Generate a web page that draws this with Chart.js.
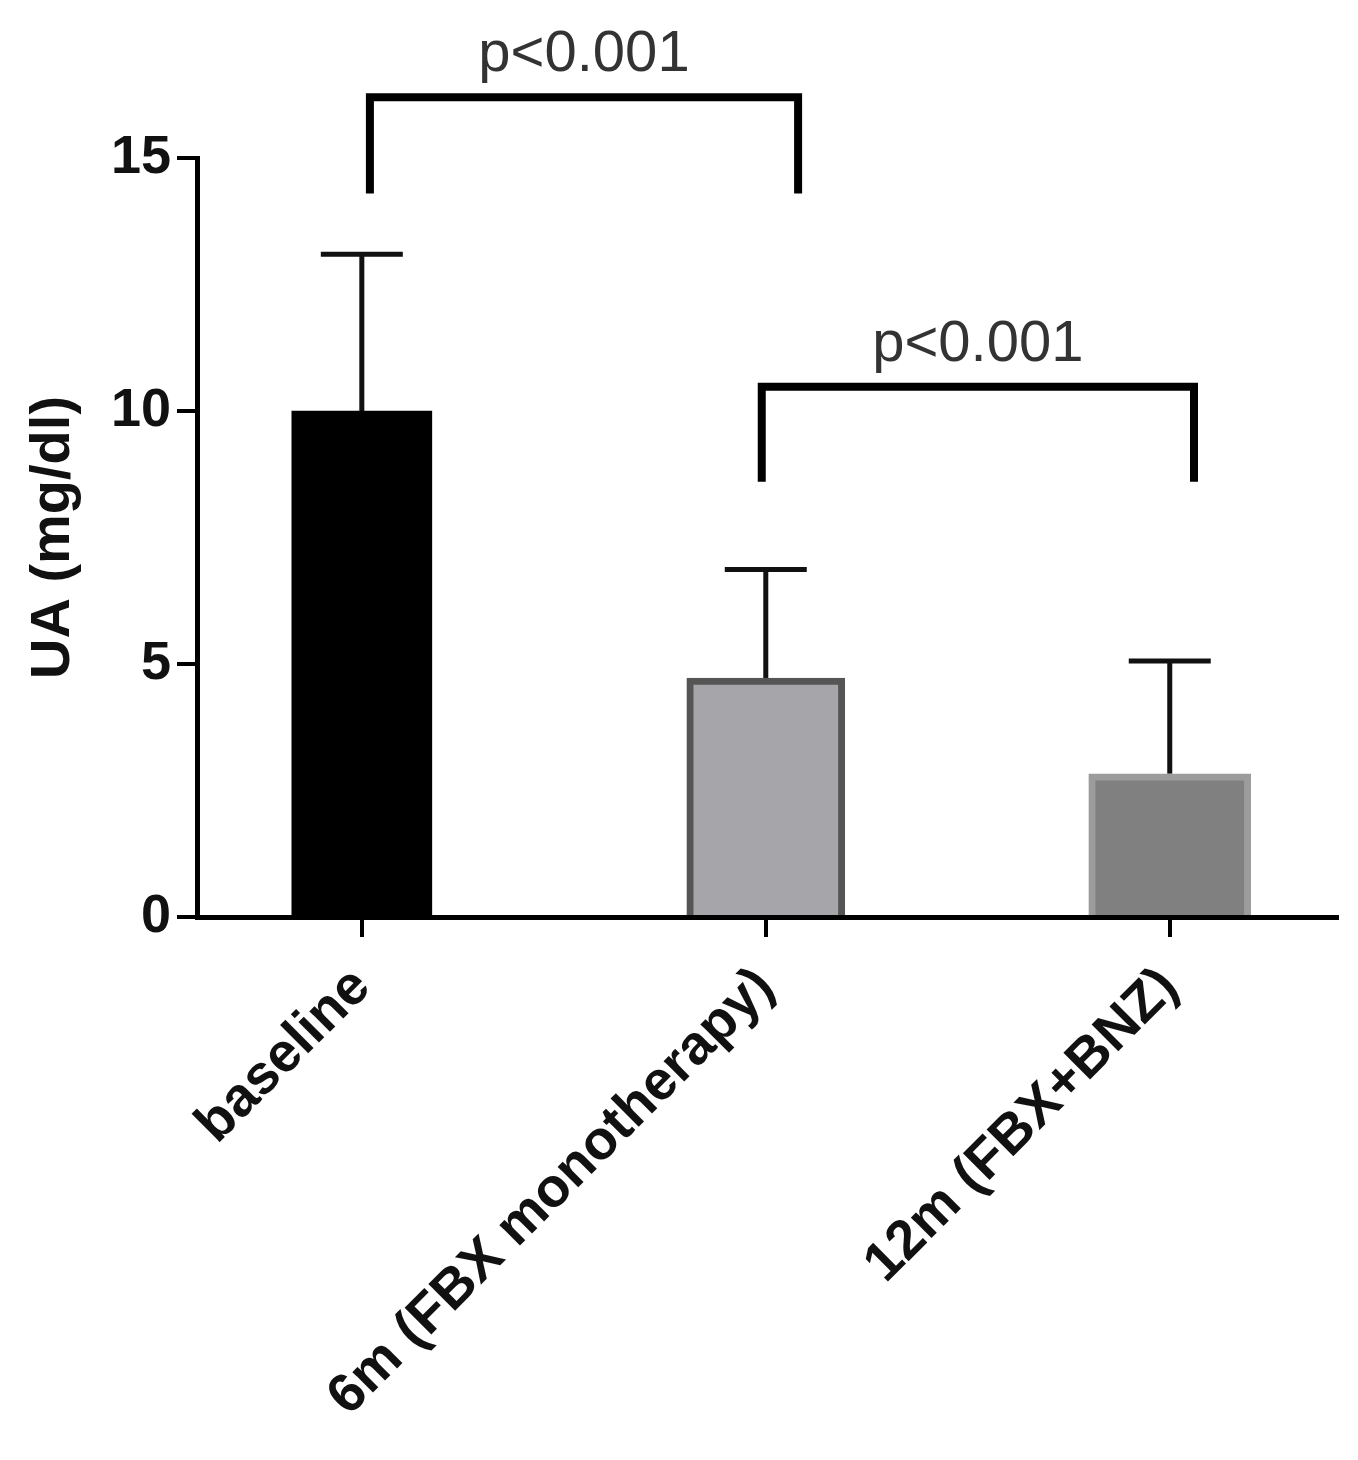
<!DOCTYPE html>
<html>
<head>
<meta charset="utf-8">
<script src="https://cdn.jsdelivr.net/npm/chart.js@4/dist/chart.umd.min.js"></script>
<style>
  html, body { margin: 0; padding: 0; background: #fff; }
  #wrap { width: 1358px; height: 1460px; }
</style>
</head>
<body>
<div id="wrap"><canvas id="uaChart"></canvas></div>
<script>
// ===== data =====
const categories = ['baseline', '6m (FBX monotherapy)', '12m (FBX+BNZ)'];
const means = [10.0, 4.72, 2.83];
const sds = [3.1, 2.15, 2.23];
const yTicks = [0, 5, 10, 15];

// significance brackets (x in category units, y in mg/dl)
const bracketFrom = [0.02, 0.99];
const bracketTo = [1.08, 2.06];
const bracketTop = [16.2, 10.48];
const bracketLegEnd = [14.3, 8.6];
const bracketLabels = ['p<0.001', 'p<0.001'];

// bar styling
const barFill = ['#000000', '#a6a6aa', '#808080'];
const barEdge = ['#000000', '#555555', '#9c9c9c'];
const barWidth = [140, 158, 162];

const FONT = '"Liberation Sans", Arial, Helvetica, sans-serif';

// error bars + brackets
const annotations = {
  id: 'annotations',
  beforeDatasetsDraw(chart) {
    const { ctx, scales: { x, y } } = chart;
    ctx.save();
    ctx.strokeStyle = '#111';
    ctx.lineWidth = 5;
    categories.forEach((c, i) => {
      const px = x.getPixelForValue(i);
      const top = y.getPixelForValue(means[i]);
      const hi = y.getPixelForValue(means[i] + sds[i]);
      ctx.beginPath();
      ctx.moveTo(px, top);
      ctx.lineTo(px, hi);
      ctx.moveTo(px - 41, hi);
      ctx.lineTo(px + 41, hi);
      ctx.stroke();
    });
    ctx.restore();
  },
  afterDraw(chart) {
    const { ctx, scales: { x, y } } = chart;
    ctx.save();
    ctx.strokeStyle = '#000';
    ctx.lineWidth = 8;
    ctx.lineJoin = 'miter';
    ctx.font = '58px ' + FONT;
    ctx.fillStyle = '#333';
    ctx.textAlign = 'center';
    ctx.textBaseline = 'alphabetic';
    bracketLabels.forEach((lab, i) => {
      const x1 = x.getPixelForValue(bracketFrom[i]);
      const x2 = x.getPixelForValue(bracketTo[i]);
      const yt = y.getPixelForValue(bracketTop[i]);
      const yb = y.getPixelForValue(bracketLegEnd[i]);
      ctx.beginPath();
      ctx.moveTo(x1, yb);
      ctx.lineTo(x1, yt);
      ctx.lineTo(x2, yt);
      ctx.lineTo(x2, yb);
      ctx.stroke();
      ctx.fillText(lab, (x1 + x2) / 2, yt - 26);
    });
    ctx.restore();
  }
};

const ctx = document.getElementById('uaChart');
new Chart(ctx, {
  type: 'bar',
  data: {
    datasets: categories.map((c, i) => ({
      label: c,
      data: [{ x: i, y: means[i] }],
      backgroundColor: barFill[i],
      borderColor: barEdge[i],
      borderWidth: i === 0 ? 0 : 7,
      borderSkipped: 'start',
      barThickness: barWidth[i],
      grouped: false
    }))
  },
  options: {
    responsive: true,
    maintainAspectRatio: false,
    animation: false,
    layout: { padding: { top: 158, right: 21, left: 0, bottom: 0 } },
    plugins: {
      legend: { display: false },
      tooltip: { enabled: false }
    },
    scales: {
      x: {
        type: 'linear',
        min: -0.408,
        max: 2.414,
        offset: false,
        afterBuildTicks: (scale) => { scale.ticks = categories.map((c, i) => ({ value: i })); },
        afterFit: (scale) => { scale.height = 543; },
        border: { display: true, color: '#000', width: 5 },
        grid: { display: true, offset: false, drawOnChartArea: false, drawTicks: true, tickLength: 20, color: '#000', lineWidth: 4 },
        ticks: {
          autoSkip: false,
          maxRotation: 45,
          minRotation: 45,
          padding: 18,
          color: '#111',
          font: { family: FONT, size: 55, weight: 'bold' },
          callback: (v) => categories[v]
        }
      },
      y: {
        min: 0,
        max: 15,
        afterBuildTicks: (scale) => { scale.ticks = yTicks.map(v => ({ value: v })); },
        afterFit: (scale) => { scale.width = 197; },
        border: { display: true, color: '#000', width: 5 },
        grid: { display: true, drawOnChartArea: false, drawTicks: true, tickLength: 20, color: '#000', lineWidth: 4 },
        ticks: {
          padding: 6,
          color: '#111',
          font: { family: FONT, size: 54, weight: 'bold' }
        },
        title: {
          display: true,
          text: 'UA (mg/dl)',
          color: '#111',
          padding: { top: 20, bottom: 0 },
          font: { family: FONT, size: 56, weight: 'bold' }
        }
      }
    }
  },
  plugins: [annotations]
});
</script>
</body>
</html>
